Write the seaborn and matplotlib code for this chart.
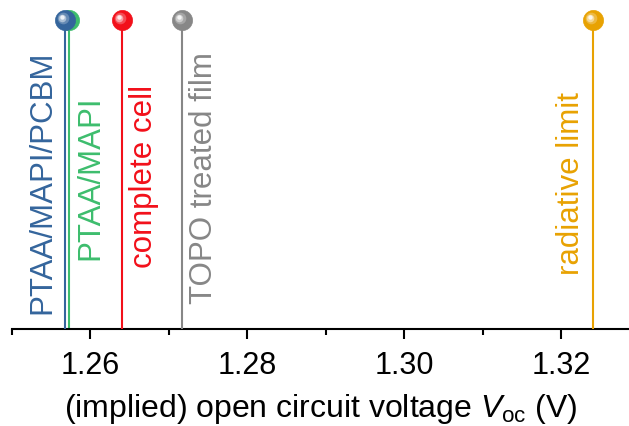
import numpy as np
import pandas as pd
import matplotlib
matplotlib.use('Agg')
import matplotlib.pyplot as plt
import matplotlib.transforms as mtransforms
import seaborn as sns

# datos
labels = ['PTAA/MAPI', 'PTAA/MAPI/PCBM', 'complete cell', 'TOPO treated film', 'radiative limit']
voc = [1.2572, 1.2567, 1.2640, 1.2716, 1.3240]
colors = ['#3dbd6d', '#34659c', '#f2101a', '#878787', '#e8a202']
text_side = ['right', 'left', 'right', 'right', 'left']
text_y = [0.49, 0.475, 0.495, 0.49, 0.47]

df = pd.DataFrame({'label': labels, 'voc': voc, 'top': 1.0})

sns.set_theme(style='ticks')
plt.rcParams['font.family'] = ['Liberation Sans', 'DejaVu Sans']
plt.rcParams['mathtext.fontset'] = 'custom'
plt.rcParams['mathtext.rm'] = 'Liberation Sans'
plt.rcParams['mathtext.it'] = 'Liberation Sans:italic'

fig = plt.figure(figsize=(6.29, 4.26), dpi=100)
ax = fig.add_axes([12 / 629, 1 - 329 / 426, 1 - 12 / 629, (329 - 20) / 426])

for i, row in df.iterrows():
    c = colors[i]
    ax.vlines(row['voc'], 0, 1, color=c, lw=1.5, zorder=2 + i)
    sns.scatterplot(x=[row['voc']], y=[row['top']], ax=ax, color=c, s=210,
                    edgecolor=c, linewidth=0.5, clip_on=False, zorder=10 + i, legend=False)
    # brillo de la esfera
    for dx, sz, a in [(-2.0, 70, 0.25), (-2.5, 30, 0.45), (-3.0, 10, 0.8)]:
        hl = mtransforms.offset_copy(ax.transData, fig=fig, x=dx, y=-dx, units='dots')
        ax.scatter([row['voc']], [row['top']], s=sz, color='white', alpha=a,
                   linewidths=0, transform=hl, clip_on=False, zorder=10 + i)
    if text_side[i] == 'right':
        off = mtransforms.offset_copy(ax.transData, fig=fig, x=7, y=0, units='dots')
        ha = 'left'
    else:
        off = mtransforms.offset_copy(ax.transData, fig=fig, x=-7, y=0, units='dots')
        ha = 'right'
    ax.text(row['voc'], text_y[i], row['label'], color=c, rotation=90, fontsize=22.5,
            ha=ha, va='center', transform=off)

ax.set_xlim(1.25, 1.3286)
ax.set_ylim(0, 1)
ax.set_xticks([1.26, 1.28, 1.30, 1.32])
ax.set_xticklabels(['1.26', '1.28', '1.30', '1.32'])
ax.set_xticks([1.25, 1.27, 1.29, 1.31], minor=True)
ax.set_yticks([])
ax.tick_params(axis='x', which='major', length=7, width=1.5, labelsize=22, pad=9,
               color='black', labelcolor='black')
ax.tick_params(axis='x', which='minor', length=4, width=1.5, color='black')
for s in ['top', 'right', 'left']:
    ax.spines[s].set_visible(False)
ax.spines['bottom'].set_linewidth(1.5)
ax.spines['bottom'].set_color('black')
ax.set_xlabel(r'(implied) open circuit voltage $V_{\mathrm{oc}}$ (V)', fontsize=23,
              labelpad=8, color='black')

fig.savefig('out.png', dpi=100)
